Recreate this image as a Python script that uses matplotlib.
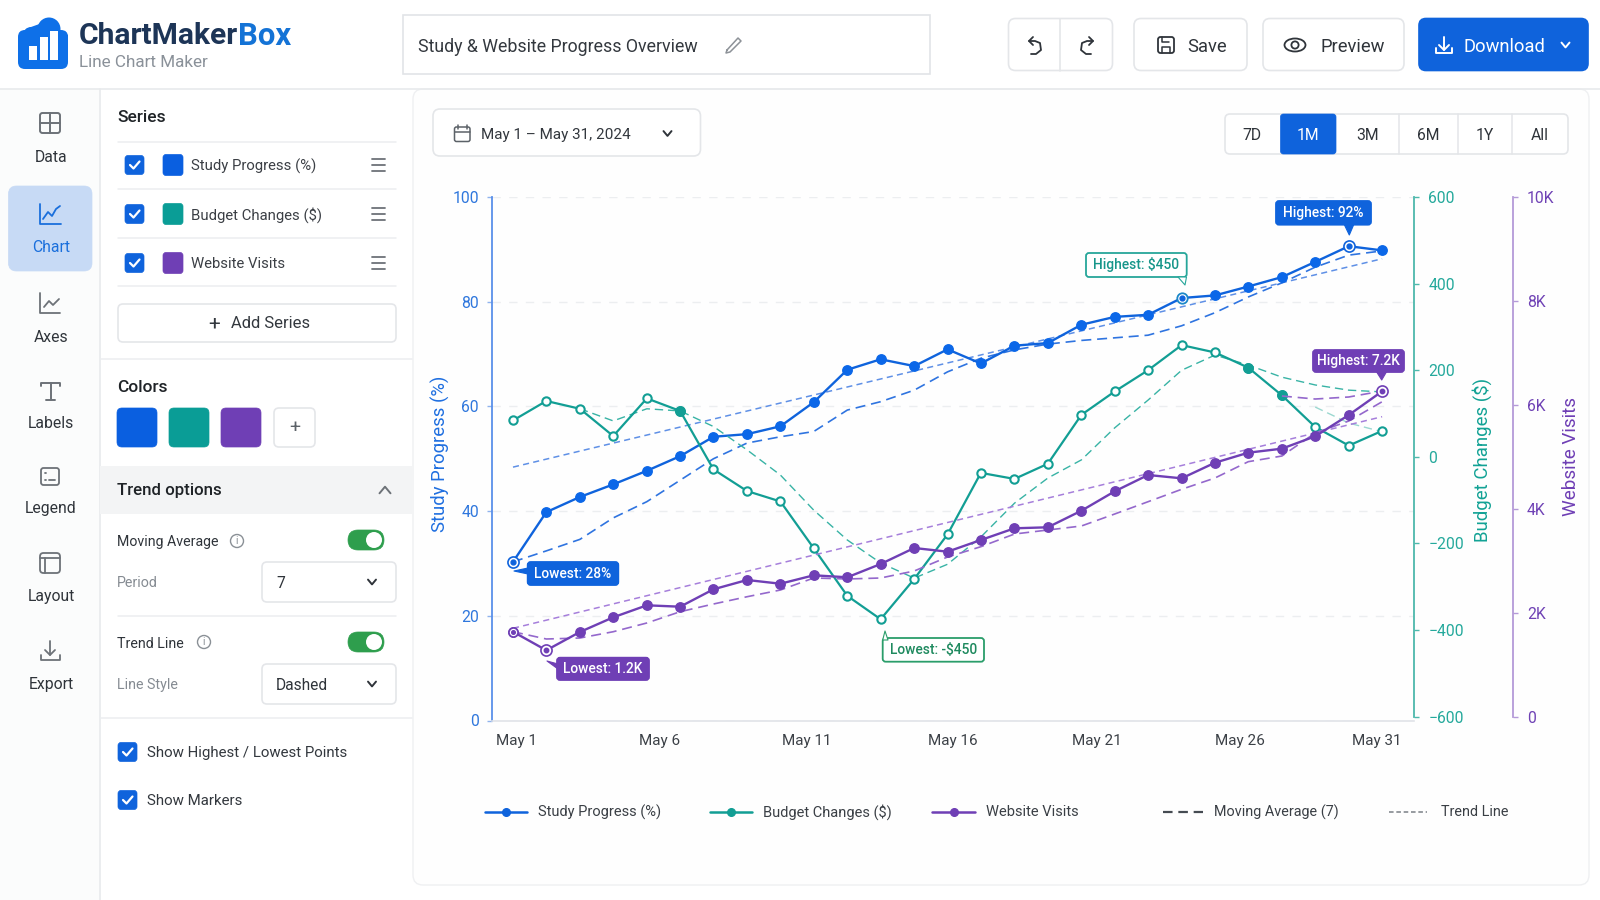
import matplotlib
matplotlib.use('Agg')
import matplotlib.pyplot as plt
from matplotlib.patches import FancyBboxPatch, Rectangle, Circle, Polygon, Ellipse
from matplotlib.lines import Line2D

plt.rcParams['font.family'] = ['Roboto', 'DejaVu Sans']

# Chart data
days = [1, 2.15, 3.31, 4.46, 5.62, 6.77, 7.92, 9.08, 10.23, 11.38, 12.54, 13.69, 14.85, 16,
        17.15, 18.31, 19.46, 20.62, 21.77, 22.92, 24.08, 25.23, 26.38, 27.54, 28.69, 29.85, 31]
study = [30.3, 39.8, 42.7, 45.1, 47.7, 50.5, 54.2, 54.7, 56.2, 60.8, 67, 69, 67.7, 70.9,
         68.2, 71.6, 72.1, 75.6, 77.1, 77.5, 80.7, 81.2, 82.9, 84.7, 87.6, 90.6, 89.8]
study_ma = [30.3, 32.4, 34.6, 38.7, 41.8, 45.9, 50, 53, 54.2, 55.2, 59.3, 60.9, 63.1, 66.6,
            69.2, 70.8, 71.9, 72.6, 73.1, 73.6, 75.4, 77.9, 80.9, 83.6, 86.6, 88.9, 89.7]
study_trend = [48.4, 88.2]
budget = [84, 129, 111, 48, 135, 106, -29, -79, -103, -211, -321, -375, -282, -179,
          -37, -51, -16, 97, 151, 200, 258, 241, 206, 142, 69, 26, 60]
budget_ma = [111, 83, 111, 106, 70, 16, -42, -123, -192, -245, -280, -248, -185,
             -107, -49, -7, 67, 131, 200, 235, 212, 184, 166, 154, 150]
budget_tail_days = [28.69, 29.85, 31]
budget_tail = [115, 78, 58]
visits = [1640, 1283, 1635, 1917, 2148, 2121, 2456, 2635, 2563, 2725, 2687, 2942, 3250, 3179,
          3404, 3629, 3648, 3967, 4340, 4654, 4590, 4890, 5083, 5160, 5398, 5808, 6263]
visits_ma = [1640, 1500, 1519, 1640, 1808, 2025, 2173, 2313, 2442, 2673, 2654, 2673, 2808, 3077,
             3275, 3519, 3596, 3673, 3904, 4140, 4379, 4596, 4910, 5019, 5462, 5692, 6063]
visits_tail_days = [27.54, 28.69, 29.85, 31]
visits_tail = [6173, 6115, 6154, 6269]
visits_trend = [1706, 5775]
trend_days = [1, 31]

date_ticks = [1.13, 6.07, 11.13, 16.19, 21.16, 26.08, 30.8]
date_labels = ['May 1', 'May 6', 'May 11', 'May 16', 'May 21', 'May 26', 'May 31']
study_ticks = [0, 20, 40, 60, 80, 100]
budget_ticks = [-600, -400, -200, 0, 200, 400, 600]
visit_ticks = [0, 2000, 4000, 6000, 8000, 10000]
visit_labels = ['0', '2K', '4K', '6K', '8K', '10K']

BLUE = '#0f63dc'
TEAL = '#129e94'
PURPLE = '#6f3fb5'
DARK = '#2f343a'
GREY = '#858b92'
BORDER = '#e4e6e9'

fig = plt.figure(figsize=(16, 9), dpi=100, facecolor='white')

# Pixel-space layer for the app chrome
ui = fig.add_axes([0, 0, 1, 1], zorder=0)
ui.set_xlim(0, 1600)
ui.set_ylim(900, 0)
ui.axis('off')


def box(ax, x0, y0, x1, y1, r=6, fc='white', ec=BORDER, lw=1.2, z=2):
    ax.add_patch(FancyBboxPatch((x0 + r, y0 + r), x1 - x0 - 2 * r, y1 - y0 - 2 * r,
                                boxstyle='round,pad=%g,rounding_size=%g' % (r, r),
                                fc=fc, ec=ec, lw=lw, zorder=z))


def txt(x, y, s, size=11, color=DARK, ha='left', weight='normal', ax=ui, z=5):
    ax.text(x, y + 1, s, fontsize=size, color=color, ha=ha, va='center', fontweight=weight, zorder=z)


def ln(xs, ys, color=DARK, lw=1.2, ax=ui, z=4, **kw):
    ax.add_line(Line2D(xs, ys, color=color, lw=lw, zorder=z, solid_capstyle='round', **kw))


def chevron(x, y, size=4, up=False, color=DARK, lw=1.4):
    d = -size * 0.6 if up else size * 0.6
    ln([x - size, x, x + size], [y - d, y + d, y - d], color, lw)


def checkbox(x0, y):
    box(ui, x0, y - 9.5, x0 + 19, y + 9.5, r=3, fc=BLUE, ec=BLUE, lw=0.5)
    ln([x0 + 5, x0 + 8.5, x0 + 14.5], [y, y + 3.5, y - 3.5], 'white', 1.6)


def hamburger(x0, x1, y):
    for dy in (-6, 0, 6):
        ln([x0, x1], [y + dy, y + dy], '#6d7278', 1.3)


def toggle(y0, y1):
    box(ui, 348, y0, 384, y1, r=10, fc='#2e9e4d', ec='#2e9e4d', lw=0.5)
    ui.add_patch(Circle((374, (y0 + y1) / 2), 8, fc='white', ec='none', zorder=4))


def info(x, y):
    ui.add_patch(Circle((x, y), 6.5, fc='none', ec='#8a9096', lw=1, zorder=4))
    ui.text(x, y, 'i', fontsize=7.5, color='#8a9096', ha='center', va='center', zorder=5)


# Backgrounds and dividers
ui.add_patch(Rectangle((0, 89), 99, 811, fc='#fbfcfc', ec='none', zorder=1))
box(ui, 413, 89, 1589, 885, r=10, fc='#fefefe', ec='#eff0f2', lw=1, z=1)
ln([0, 1600], [89, 89], '#e8eaec', 1.2, z=2)
ln([99.5, 99.5], [89, 900], '#e8eaec', 1.2, z=2)

# Logo
ui.add_patch(FancyBboxPatch((24, 36), 38, 27, boxstyle='round,pad=6,rounding_size=7', fc='#0e70e8', ec='none', zorder=2))
ui.add_patch(Circle((49, 29), 11.5, fc='#0e70e8', ec='none', zorder=2))
ui.add_patch(Circle((31, 35), 8, fc='#0e70e8', ec='none', zorder=2))
ui.add_patch(Polygon([[18, 40], [31, 27], [45, 22], [68, 35], [68, 50], [18, 50]], fc='#0e70e8', ec='none', zorder=2))
for x0, top in [(28.5, 46), (39.5, 37), (50, 31)]:
    ui.add_patch(Rectangle((x0, top), 8, 59.5 - top, fc='white', ec='none', zorder=3))
txt(79, 35, 'ChartMaker', 21.6, '#1d3557', weight='bold')
txt(291, 35, 'Box', 22.4, '#1473d6', ha='right', weight='bold')
txt(79, 61.5, 'Line Chart Maker', 12.3, '#8a9199')

# Title box
ui.add_patch(Rectangle((402.5, 15), 527.5, 58.5, fc='white', ec='#e2e4e7', lw=1.2, zorder=2))
txt(418.5, 45.5, 'Study & Website Progress Overview', 12.8, '#33383e')
ln([727, 738, 741, 730, 726, 727], [50, 38, 41, 52, 53, 50], '#8d9298', 1.1)

# Toolbar
box(ui, 1008.5, 18.5, 1112.5, 70.5, r=7)
ln([1060, 1060], [18.5, 70.5], BORDER, 1.2)
ln([1029, 1035, 1040, 1041, 1036, 1031], [41, 41, 43, 50, 54, 54], DARK, 1.3)
ln([1033, 1029, 1033], [37, 41, 45], DARK, 1.3)
ln([1093, 1087, 1082, 1081, 1086, 1091], [41, 41, 43, 50, 54, 54], DARK, 1.3)
ln([1089, 1093, 1089], [37, 41, 45], DARK, 1.3)
box(ui, 1134, 18.5, 1247, 70.5, r=7)
box(ui, 1158, 37, 1174, 53, r=2.5, fc='none', ec=DARK, lw=1.3, z=4)
ln([1162, 1162, 1169], [37, 42, 42], DARK, 1.1)
ln([1162, 1162, 1170, 1170], [53, 47, 47, 53], DARK, 1.1)
txt(1187.5, 45.5, 'Save', 13.2)
box(ui, 1263, 18.5, 1404, 70.5, r=7)
ui.add_patch(Ellipse((1295, 45), 21, 13, fc='none', ec=DARK, lw=1.3, zorder=4))
ui.add_patch(Circle((1295, 45), 3.6, fc='none', ec=DARK, lw=1.3, zorder=4))
txt(1320.5, 45.5, 'Preview', 13.2)
box(ui, 1419, 18.5, 1588, 70.5, r=7, fc=BLUE, ec=BLUE)
ln([1444, 1444], [37, 50], 'white', 1.4)
ln([1439, 1444, 1449], [45, 50, 45], 'white', 1.4)
ln([1436, 1436, 1452, 1452], [48, 53, 53, 48], 'white', 1.4)
txt(1463.5, 45.5, 'Download', 13.2, 'white')
chevron(1565.5, 45, 4, color='white')

# Side navigation
box(ui, 8.5, 186, 92, 271, r=8, fc='#c7daf5', ec='#c7daf5', lw=0.5)
nav_items = [('Data', 157, DARK), ('Chart', 247, '#1a6fdc'), ('Axes', 336, DARK),
             ('Labels', 423, DARK), ('Legend', 508, DARK), ('Layout', 596, DARK), ('Export', 684, DARK)]
for name, y, c in nav_items:
    txt(51, y, name, 11.3, c, ha='center')
# data grid
box(ui, 40, 113, 60, 133, r=2.5, fc='none', ec='#6d7278', lw=1.4, z=4)
ln([50, 50], [113, 133], '#6d7278', 1.4)
ln([40, 60], [123, 123], '#6d7278', 1.4)
# chart and axes icons
ln([40, 40, 61], [204, 224, 224], '#1a6fdc', 1.3)
ln([43, 48, 52, 56, 60], [219, 212, 216, 209, 206], '#1a6fdc', 1.3)
ln([40, 40, 60], [293, 313, 313], '#6d7278', 1.3)
ln([44, 49, 53, 59], [307, 301, 305, 299], '#6d7278', 1.3)
# labels T
ln([41, 41, 60, 60], [386, 383, 383, 386], '#6d7278', 1.4)
ln([50.5, 50.5], [383, 400], '#6d7278', 1.4)
ln([46, 55], [400, 400], '#6d7278', 1.4)
# legend
box(ui, 41, 468, 59, 485, r=2.5, fc='none', ec='#6d7278', lw=1.3, z=4)
ln([45, 46], [473, 473], '#6d7278', 1.3)
ln([45, 46], [480, 480], '#6d7278', 1.3)
ln([49, 55], [480, 480], '#6d7278', 1.3)
# layout
box(ui, 40, 553, 60, 573, r=3.5, fc='none', ec='#6d7278', lw=1.3, z=4)
ln([40, 60], [558, 558], '#6d7278', 1.3)
ln([45, 45], [558, 573], '#6d7278', 1.3)
# export
ln([50, 50], [641, 655], '#6d7278', 1.3)
ln([45, 50, 55], [650, 655, 650], '#6d7278', 1.3)
ln([41, 41, 60, 60], [655, 660, 660, 655], '#6d7278', 1.3)

# Series panel
txt(117, 116, 'Series', 12.5, '#1f2327', weight='medium')
for y in (142, 189, 238, 286):
    ln([118, 396], [y, y], '#eceef0', 1.1, z=2)
series_names = ['Study Progress (%)', 'Budget Changes ($)', 'Website Visits']
series_colors = [BLUE, TEAL, PURPLE]
swatch_colors = ['#0a5fe0', '#0a9d96', PURPLE]
for y, name, c in zip((165, 214, 263), series_names, swatch_colors):
    checkbox(125, y)
    box(ui, 163, y - 10.5, 183, y + 10.5, r=3, fc=c, ec=c, lw=0.5)
    txt(191, y, name, 10.7, '#3b3f45')
    hamburger(372, 385, y)
box(ui, 118, 304, 396, 342, r=5)
txt(214.5, 323, '+', 15, '#33383e', ha='center')
txt(231, 323, 'Add Series', 12, '#33383e')
ln([100, 412], [359, 359], '#eceef0', 1.1, z=2)

# Colors panel
txt(117, 387, 'Colors', 12.5, '#1f2327', weight='medium')
for x0, c in zip((117, 169, 221), swatch_colors):
    box(ui, x0, 408, x0 + 40, 447, r=5, fc=c, ec=c, lw=0.5)
box(ui, 274, 408, 315, 447, r=5)
txt(294.5, 427, '+', 14, '#5c6268', ha='center')

# Trend options
ui.add_patch(Rectangle((100, 466), 312, 48, fc='#f3f4f5', ec='none', zorder=2))
txt(117, 490, 'Trend options', 12.2, '#1f2327', weight='medium')
chevron(385, 490, 5.5, up=True, color='#6d7278')
txt(117, 541, 'Moving Average', 10.2, '#2f343a')
info(237, 541)
toggle(530, 550)
txt(117, 582, 'Period', 10.3, GREY)
box(ui, 262, 562, 396, 602, r=5)
txt(276, 582, '7', 11.2)
chevron(372, 582)
ln([118, 396], [616, 616], '#eceef0', 1.1, z=2)
txt(117, 643, 'Trend Line', 10.3, '#2f343a')
info(204, 642)
toggle(632, 652)
txt(117, 684, 'Line Style', 10.3, GREY)
box(ui, 262, 664, 396, 704, r=5)
txt(276, 684, 'Dashed', 11.2)
chevron(372, 684)
ln([100, 412], [718, 718], '#eceef0', 1.1, z=2)
checkbox(118, 752)
txt(147, 752, 'Show Highest / Lowest Points', 10.8, '#33383e')
checkbox(118, 800)
txt(147, 800, 'Show Markers', 10.8, '#33383e')

# Date picker and range tabs
box(ui, 433, 109, 700.5, 156, r=7)
box(ui, 454.5, 127, 470, 141.5, r=2, fc='none', ec='#5c6268', lw=1.1, z=4)
ln([454.5, 470], [131.5, 131.5], '#5c6268', 1.1)
ln([458, 458], [125, 129], '#5c6268', 1.1)
ln([466.5, 466.5], [125, 129], '#5c6268', 1.1)
txt(481, 134, 'May 1 – May 31, 2024', 11, '#33383e')
chevron(667.5, 133.5, 4)
box(ui, 1225, 114, 1568, 154, r=5)
for x in (1398.6, 1457.6, 1512):
    ln([x, x], [114, 154], BORDER, 1.1)
box(ui, 1280.5, 114, 1336, 154, r=3, fc=BLUE, ec=BLUE, lw=0.5, z=3)
for x, s, c in [(1252, '7D', DARK), (1308, '1M', 'white'), (1368, '3M', DARK),
                (1428, '6M', DARK), (1485, '1Y', DARK), (1539.5, 'All', DARK)]:
    txt(x, 134, s, 11.3, c, ha='center')

# Chart axes
left, right, top = 491.7, 1413.7, 197
xlim = (0.265, 32.09)


def chart_axes(bottom, z):
    a = fig.add_axes([left / 1600, 1 - bottom / 900, (right - left) / 1600, (bottom - top) / 900], zorder=z)
    a.set_facecolor('none')
    a.set_xlim(*xlim)
    for name in ('top', 'left', 'right', 'bottom'):
        a.spines[name].set_visible(False)
    return a


ax = chart_axes(720.5, 1)
ax.set_ylim(0, 100)
ax.set_yticks(study_ticks)
ax.set_xticks(date_ticks, date_labels)
ax.tick_params(axis='x', length=0, pad=10, labelsize=11, labelcolor='#3c4147')
ax.tick_params(axis='y', length=3.6, width=1, color='#8fb3ee', pad=5.5, labelsize=11.3, labelcolor='#2f77dd')
ax.yaxis.grid(True, color='#eceef0', lw=1, ls=(0, (6, 6)))
ax.set_axisbelow(True)
ax.spines['left'].set_visible(True)
ax.spines['left'].set_color('#5a90ea')
ax.spines['left'].set_linewidth(1.3)
ax.spines['bottom'].set_visible(True)
ax.spines['bottom'].set_color('#e0e3e8')
ax.spines['bottom'].set_linewidth(1.2)
ax.set_ylabel('Study Progress (%)', fontsize=13.3, color='#1f6fe0')
ax.yaxis.set_label_coords((450 - left) / (right - left), 0.51)

ax2 = chart_axes(716.7, 2)
ax2.set_ylim(-600, 600)
ax2.set_xticks([])
ax2.yaxis.tick_right()
ax2.set_yticks(budget_ticks)
ax2.tick_params(axis='y', length=3.6, width=1, color='#4db8ac', pad=7, labelsize=11.3, labelcolor='#25a99c')
ax2.spines['right'].set_visible(True)
ax2.spines['right'].set_color('#4db8ac')
ax2.spines['right'].set_linewidth(1.3)
ax2.yaxis.set_label_position('right')
ax2.set_ylabel('Budget Changes ($)', fontsize=13.4, color='#12a295')
ax2.yaxis.set_label_coords((1472 - left) / (right - left), 0.495)

ax3 = chart_axes(717, 3)
ax3.set_ylim(0, 10000)
ax3.set_xticks([])
ax3.yaxis.tick_right()
ax3.set_yticks(visit_ticks, visit_labels)
ax3.tick_params(axis='y', length=3.6, width=1, color='#b49ad8', pad=6.5, labelsize=11.3, labelcolor='#6f42b5')
ax3.spines['right'].set_visible(True)
ax3.spines['right'].set_position(('outward', 71.5))
ax3.spines['right'].set_color('#b49ad8')
ax3.spines['right'].set_linewidth(1.3)
ax3.yaxis.set_label_position('right')
ax3.set_ylabel('Website Visits', fontsize=13.6, color='#6f3fb5')
ax3.yaxis.set_label_coords((1562 - left) / (right - left), 0.5)

MA_DASH = (0, (6, 3.5))
TREND_DASH = (0, (4, 2.8))

# Study Progress
ax.plot(trend_days, study_trend, color='#5f90e6', lw=1.1, ls=TREND_DASH)
ax.plot(days, study_ma, color='#2f74e0', lw=1.2, ls=MA_DASH)
ax.plot(days, study, color=BLUE, lw=1.7, marker='o', ms=6.8, mec='#0b67e8', mfc='#0b67e8')

# Budget Changes
ax2.plot(days[2:], budget_ma, color='#38b3a5', lw=1, ls=MA_DASH)
ax2.plot(budget_tail_days, budget_tail, color='#9bd8d0', lw=1, ls=MA_DASH)
ax2.plot(days, budget, color=TEAL, lw=1.6, marker='o', ms=6, mec=TEAL, mfc='white', mew=1.5)
filled = [5, 22, 23]
ax2.plot([days[i] for i in filled], [budget[i] for i in filled], ls='none', marker='o', ms=6.8, mec=TEAL, mfc=TEAL)

# Website Visits
ax3.plot(trend_days, visits_trend, color='#a67fdb', lw=1.1, ls=TREND_DASH)
ax3.plot(days, visits_ma, color='#9468cc', lw=1.2, ls=MA_DASH)
ax3.plot(visits_tail_days, visits_tail, color='#9468cc', lw=1.2, ls=MA_DASH)
ax3.plot(days, visits, color=PURPLE, lw=1.7, marker='o', ms=6.8, mec=PURPLE, mfc=PURPLE)

# Highest / lowest rings
blue_rings = [0, 25]
for i in blue_rings:
    ax.plot(days[i], study[i], marker='o', ms=8, mfc='white', mec=BLUE, mew=1.2, zorder=6)
    ax.plot(days[i], study[i], marker='o', ms=3.5, mfc=BLUE, mec=BLUE, zorder=7)
ax.plot(days[20], study[20], marker='o', ms=7.5, mfc='white', mec='#1b88c8', mew=1.3, zorder=6)
ax.plot(days[20], study[20], marker='o', ms=3.5, mfc=BLUE, mec=BLUE, zorder=7)
purple_rings = [0, 1, 26]
for i, size in zip(purple_rings, (6.5, 8, 8)):
    ax3.plot(days[i], visits[i], marker='o', ms=size, mfc='white', mec=PURPLE, mew=1.2, zorder=6)
    ax3.plot(days[i], visits[i], marker='o', ms=size * 0.4, mfc=PURPLE, mec=PURPLE, zorder=7)

# Callouts above everything
over = fig.add_axes([0, 0, 1, 1], zorder=10)
over.set_xlim(0, 1600)
over.set_ylim(900, 0)
over.axis('off')


def callout(x0, y0, x1, y1, s, tail, fc, ec, tc):
    box(over, x0, y0, x1, y1, r=3, fc=fc, ec=ec, lw=1.3, z=3)
    over.add_patch(Polygon(tail, fc=fc, ec=ec, lw=0.8, zorder=3, joinstyle='round'))
    txt((x0 + x1) / 2, (y0 + y1) / 2 - 1, s, 9.9, tc, ha='center', weight='medium', ax=over)


callout(1276, 201, 1371, 224.7, 'Highest: 92%', [[1344, 224], [1354, 224], [1349.3, 235]], BLUE, BLUE, 'white')
callout(1086, 253, 1186.7, 277, 'Highest: $450', [[1178, 277], [1186.5, 277], [1185, 285]], 'white', '#26a69a', '#17968a')
callout(1313, 350, 1404, 372, 'Highest: 7.2K', [[1376, 371], [1387, 371], [1381.7, 380]], PURPLE, PURPLE, 'white')
callout(527.7, 562, 618.3, 585, 'Lowest: 28%', [[528, 568], [528, 574], [514, 571]], BLUE, BLUE, 'white')
callout(557, 657.7, 649, 680, 'Lowest: 1.2K', [[558, 664], [558, 669], [547, 661]], PURPLE, PURPLE, 'white')
callout(882.7, 638, 984, 661.7, 'Lowest: -$450', [[882.7, 640], [888, 640], [885, 631]], 'white', '#2a9d6a', '#1f8a5f')

# Legend row
legend_y = 811.5
for x0, x1, c, lab, tx in [(485, 527, BLUE, series_names[0], 538),
                           (710, 752, TEAL, series_names[1], 763),
                           (932, 975, PURPLE, series_names[2], 986)]:
    ln([x0, x1], [legend_y, legend_y], c, 1.8, ax=over)
    over.plot((x0 + x1) / 2, legend_y, marker='o', ms=5.5, color=c, zorder=5)
    txt(tx, legend_y, lab, 10.5, '#3a3f45', ax=over)
ln([1163, 1203], [legend_y, legend_y], '#454b52', 1.6, ax=over, ls=(0, (4.3, 2.6)))
txt(1214.5, legend_y, 'Moving Average (7)', 10.4, '#3a3f45', ax=over)
ln([1389, 1427], [legend_y, legend_y], '#7b8087', 1.1, ax=over, ls=(0, (3, 1.8)))
txt(1441, legend_y, 'Trend Line', 10.4, '#3a3f45', ax=over)

fig.savefig('out.png', dpi=100)
